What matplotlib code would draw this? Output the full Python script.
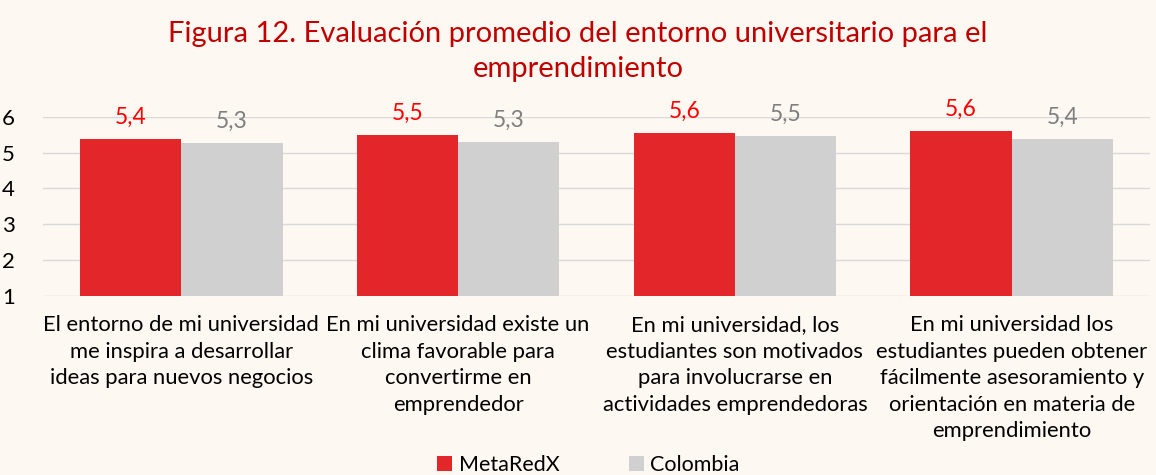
import matplotlib
matplotlib.use('Agg')
import matplotlib.pyplot as plt
import numpy as np

categories = ['El entorno de mi universidad\nme inspira a desarrollar\nideas para nuevos negocios',
              'En mi universidad existe un\nclima favorable para\nconvertirme en\nemprendedor',
              'En mi universidad, los\nestudiantes son motivados\npara involucrarse en\nactividades emprendedoras',
              'En mi universidad los\nestudiantes pueden obtener\nfácilmente asesoramiento y\norientación en materia de\nemprendimiento']
metaredx = [5.37, 5.50, 5.56, 5.60]
colombia = [5.28, 5.29, 5.46, 5.38]
series_names = ['MetaRedX', 'Colombia']

plt.rcParams['font.family'] = ['Lato', 'DejaVu Sans']
bg = '#FEF8F2'
red = '#E3262A'
gray = '#D0D0D0'

fig = plt.figure(figsize=(11.56, 4.75), dpi=100, facecolor=bg)
ax = fig.add_axes([0.037, 0.377, 0.958, 0.377], facecolor=bg)

x = np.arange(len(categories))
w = 0.366
b1 = ax.bar(x - w / 2, np.array(metaredx) - 1, w, bottom=1, color=red, label=series_names[0], zorder=3)
b2 = ax.bar(x + w / 2, np.array(colombia) - 1, w, bottom=1, color=gray, label=series_names[1], zorder=3)

for bars, vals, c in [(b1, metaredx, '#FF0000'), (b2, colombia, '#7F7F7F')]:
    for r, v in zip(bars, vals):
        ax.annotate(('%.1f' % v).replace('.', ','), (r.get_x() + r.get_width() / 2, v),
                    xytext=(0, 8), textcoords='offset points', ha='center', va='bottom',
                    color=c, fontsize=16.5, annotation_clip=False)

ax.set_ylim(1, 6)
ax.set_xlim(-0.5, 3.5)
ax.set_yticks([1, 2, 3, 4, 5, 6])
ax.yaxis.grid(True, color='#D9D9D9', linewidth=1, zorder=0)
ax.set_xticks(x)
ax.set_xticklabels(categories, fontsize=15.8, linespacing=1.4)
ax.tick_params(axis='both', length=0)
ax.tick_params(axis='y', labelsize=16, pad=20)
ax.tick_params(axis='x', pad=14)
for s in ax.spines.values():
    s.set_visible(False)

fig.suptitle('Figura 12. Evaluación promedio del entorno universitario para el\nemprendimiento',
             color='#C00000', fontsize=21, y=0.955, linespacing=1.4)

fig.legend(handles=[b1, b2], loc='lower center', bbox_to_anchor=(0.509, -0.04), ncol=2,
           frameon=False, fontsize=15.5, handlelength=0.7, handleheight=0.7, columnspacing=3.2,
           handletextpad=0.3)

fig.savefig('out.png', dpi=100, facecolor=bg)
